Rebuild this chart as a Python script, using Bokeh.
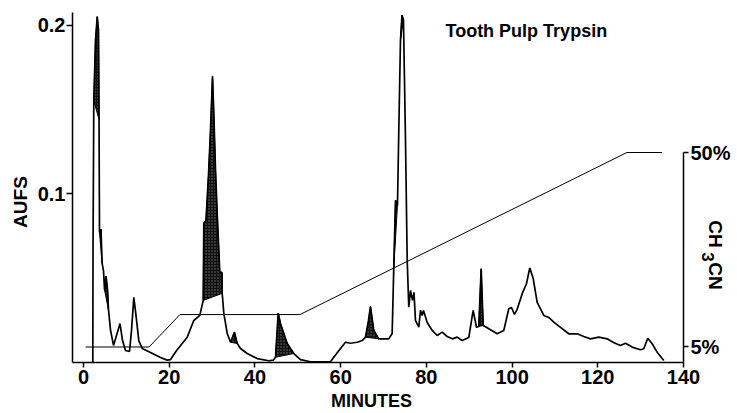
import math
from bokeh.plotting import figure
from bokeh.models import Range1d, LinearAxis, FixedTicker, Label, CustomJSTickFormatter
from bokeh.embed import file_html
from bokeh.resources import INLINE

# ---- data ----
minutes = [2.17, 2.22, 2.40, 2.80, 3.20, 3.50, 3.62, 3.73, 4.08, 4.32, 4.67, 4.90, 5.25, 5.60,
           5.83, 6.30, 7.00, 7.70, 8.52, 9.10, 9.80, 10.73, 11.20, 11.74, 12.25, 12.90, 13.70,
           15.63, 17.97, 19.53, 20.30, 21.72, 24.20, 25.73, 27.14, 27.93, 28.07, 28.58, 29.16,
           29.63, 30.10, 30.40, 30.80, 31.19, 31.80, 32.31, 32.36, 32.74, 33.53, 34.30, 35.23,
           35.86, 36.63, 38.19, 40.53, 43.23, 44.33, 44.80, 45.43, 45.96, 47.53, 49.07, 50.63,
           52.96, 57.63, 58.40, 59.96, 61.13, 62.30, 63.86, 65.03, 65.80, 66.50, 66.96, 67.73,
           68.90, 71.23, 72.02, 72.40, 72.56, 72.80, 73.26, 73.61, 73.96, 74.31, 74.66, 75.13,
           75.53, 75.90, 76.30, 76.76, 77.11, 77.46, 78.23, 78.63, 79.03, 79.33, 80.19, 81.36,
           82.53, 83.69, 84.86, 86.03, 87.19, 88.36, 89.90, 90.92, 91.69, 92.23, 92.79, 93.26,
           94.57, 96.52, 98.07, 99.23, 99.86, 100.56, 101.19, 102.36, 103.36, 104.13, 104.92,
           105.86, 107.40, 108.56, 109.73, 111.29, 113.23, 115.19, 116.73, 118.29, 120.23,
           122.19, 123.66, 125.29, 126.46, 128.02, 129.96, 130.73, 131.66, 132.69, 133.85, 135.40]
aufs = [0.000, 0.066, 0.155, 0.191, 0.205, 0.197, 0.144, 0.077, 0.079, 0.059, 0.054, 0.043, 0.051, 0.043,
        0.031, 0.019, 0.0099, 0.0158, 0.0229, 0.0128, 0.0069, 0.0063, 0.0188, 0.0384, 0.0277, 0.0128, 0.0081,
        0.0057, 0.0027, 0.0012, 0.0015, 0.0069, 0.0148, 0.0247, 0.0277, 0.0366, 0.0824, 0.0841, 0.1108,
        0.1376, 0.1697, 0.1477, 0.1138, 0.0883, 0.0532, 0.0532, 0.0408, 0.0289, 0.0170, 0.0118, 0.0178,
        0.0111, 0.0081, 0.0051, 0.0021, 0.0008, 0.0012, 0.0029, 0.0291, 0.0229, 0.0111, 0.0051, 0.0015,
        0.0002, 0.0002, 0.0029, 0.0081, 0.0118, 0.0112, 0.0118, 0.0128, 0.0148, 0.0247, 0.0330, 0.0188,
        0.0138, 0.0138, 0.0170, 0.0564, 0.0723, 0.0960, 0.0930, 0.1435, 0.1910, 0.2059, 0.2030, 0.1316,
        0.0603, 0.0326, 0.0425, 0.0366, 0.0414, 0.0247, 0.0207, 0.0307, 0.0277, 0.0307, 0.0235, 0.0188,
        0.0158, 0.0178, 0.0152, 0.0138, 0.0148, 0.0128, 0.0146, 0.0307, 0.0207, 0.0212, 0.0554, 0.0217,
        0.0198, 0.0168, 0.0188, 0.0317, 0.0324, 0.0283, 0.0313, 0.0406, 0.0465, 0.0559, 0.0497,
        0.0354, 0.0277, 0.0265, 0.0237, 0.0206, 0.0168, 0.0168, 0.0152, 0.0138, 0.0148,
        0.0138, 0.0116, 0.0099, 0.0112, 0.0089, 0.0073, 0.0079, 0.0142, 0.0109, 0.0059, 0.0010]

# shaded (integrated) peak windows, minutes
shaded_start = [2.40, 3.73, 4.90, 27.93, 34.30, 44.80, 65.80, 72.40, 73.96, 92.23]
shaded_end = [3.62, 4.32, 5.83, 32.36, 35.86, 49.07, 68.90, 73.26, 74.66, 93.26]

# acetonitrile gradient (%)
grad_minutes = [0.5, 15.3, 22.5, 50.5, 126.8, 135.0]
grad_pct = [5, 5, 12.5, 12.5, 50, 50]

x_ticks = [0, 20, 40, 60, 80, 100, 120, 140]
aufs_ticks = [0.1, 0.2]
pct_ticks = [5, 50]

# axis extents (data units)
x_axis_start, x_axis_end = -2.57, 140
aufs_axis_top = 0.2077
pct_axis_bottom, pct_axis_top = 1.41, 50

FONT = "Liberation Sans"

# the frame covers the whole canvas; axes sit at fixed data locations inside it
p = figure(width=737, height=413, x_range=Range1d(-19.37, 152.6), y_range=Range1d(-0.0305, 0.2146),
           output_backend="svg", toolbar_location=None, min_border=0)
p.extra_y_ranges = {"pct": Range1d(-10.39, 85.17)}
p.outline_line_color = None
p.xgrid.visible = False
p.ygrid.visible = False
p.background_fill_color = "white"
p.border_fill_color = "white"

def style_axis(ax, tick_out, standoff):
    ax.axis_line_color = "black"
    ax.axis_line_width = 1.5
    ax.major_tick_line_color = "black"
    ax.major_tick_line_width = 1.5
    ax.major_tick_in = 0
    ax.major_tick_out = tick_out
    ax.minor_tick_line_color = None
    ax.major_label_text_font = FONT
    ax.major_label_text_font_style = "bold"
    ax.major_label_text_font_size = "20px"
    ax.major_label_text_color = "black"
    ax.major_label_standoff = standoff

xax = p.xaxis[0]
xax.ticker = FixedTicker(ticks=x_ticks)
xax.fixed_location = 0
xax.bounds = (x_axis_start, x_axis_end)
style_axis(xax, 5, 3)

yax = p.yaxis[0]
yax.ticker = FixedTicker(ticks=aufs_ticks)
yax.fixed_location = x_axis_start
yax.bounds = (0, aufs_axis_top)
style_axis(yax, 6, 1)

raxis = LinearAxis(y_range_name="pct", ticker=FixedTicker(ticks=pct_ticks),
                   formatter=CustomJSTickFormatter(code="return tick + '%';"),
                   bounds=(pct_axis_bottom, pct_axis_top), fixed_location=x_axis_end)
style_axis(raxis, 5, 2)
p.add_layout(raxis, "right")

# shaded peaks
xs, ys = [], []
for a, b in zip(shaded_start, shaded_end):
    px = [t for t in minutes if a - 1e-9 <= t <= b + 1e-9]
    py = [v for t, v in zip(minutes, aufs) if a - 1e-9 <= t <= b + 1e-9]
    xs.append(px)
    ys.append(py)
p.patches(xs, ys, fill_color="#111111", line_color="black", line_width=1,
          hatch_pattern="dot", hatch_color="white", hatch_scale=3, hatch_alpha=0.4)

p.line(minutes, aufs, line_color="black", line_width=1.7)
p.line(grad_minutes, grad_pct, y_range_name="pct", line_color="black", line_width=1)

def lab(x, y, text, size, angle=0.0, align="center"):
    l = Label(x=x, y=y, text=text, text_font=FONT, text_font_style="bold",
              text_font_size=size, text_align=align, text_baseline="middle",
              angle=angle, text_color="black")
    p.add_layout(l)

lab(84.46, 0.1965, "Tooth Pulp Trypsin", "18px", align="left")
lab(-14.70, 0.0950, "AUFS", "19px", angle=math.pi / 2)
lab(67.2, -0.0228, "MINUTES", "18px")
lab(147.45, 0.0760, "CH", "19px", angle=-math.pi / 2)
lab(145.6, 0.0624, "3", "17px", angle=-math.pi / 2)
lab(147.45, 0.0511, "CN", "19px", angle=-math.pi / 2)

open("out.html", "w").write(file_html(p, INLINE))
